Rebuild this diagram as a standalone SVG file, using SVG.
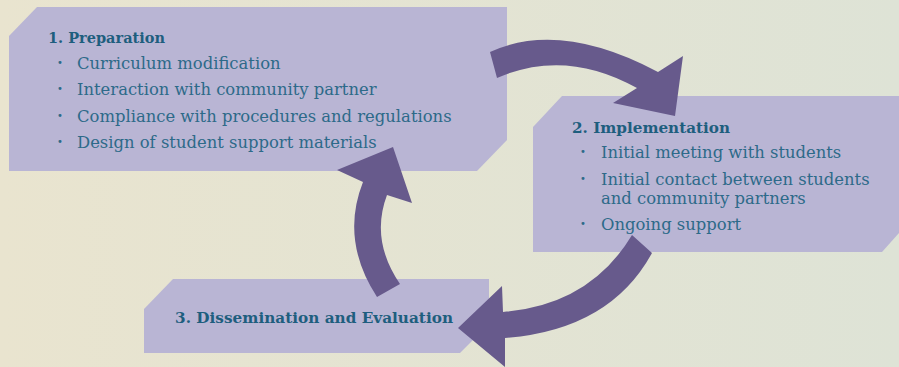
<svg xmlns="http://www.w3.org/2000/svg" width="899" height="367" viewBox="0 0 899 367">
<defs>
<linearGradient id="bg" x1="0" y1="0" x2="1" y2="0">
<stop offset="0" stop-color="#e9e4cf"/>
<stop offset="1" stop-color="#dee3d6"/>
</linearGradient>
<style>
.box{fill:#b9b5d4;}
.arrow{fill:#675a8c;}
.title{font-family:"DejaVu Serif","Liberation Serif",serif;font-weight:bold;font-size:15.5px;fill:#1e5e7e;}
.item{font-family:"DejaVu Serif","Liberation Serif",serif;font-size:16.4px;fill:#2d6a89;}
.bullet{font-family:"DejaVu Sans",sans-serif;font-size:10px;fill:#2d6a89;}
</style>
</defs>
<rect width="899" height="367" fill="url(#bg)"/>
<g id="node-preparation">
<polygon class="box" points="37,7 507,7 507,140 477,171 9,171 9,36"/>
<text class="title" x="48" y="43" textLength="117" lengthAdjust="spacingAndGlyphs">1. Preparation</text>
<text class="bullet" x="57" y="66">•</text>
<text class="item" x="77" y="69">Curriculum modification</text>
<text class="bullet" x="57" y="92">•</text>
<text class="item" x="77" y="95">Interaction with community partner</text>
<text class="bullet" x="57" y="119">•</text>
<text class="item" x="77" y="122">Compliance with procedures and regulations</text>
<text class="bullet" x="57" y="145">•</text>
<text class="item" x="77" y="148">Design of student support materials</text>
</g>
<g id="node-implementation">
<polygon class="box" points="562,96 899,96 899,233 882,252 533,252 533,127"/>
<text class="title" x="572" y="133" textLength="158" lengthAdjust="spacingAndGlyphs">2. Implementation</text>
<text class="bullet" x="580" y="155">•</text>
<text class="item" x="601" y="158">Initial meeting with students</text>
<text class="bullet" x="580" y="182">•</text>
<text class="item" x="601" y="185">Initial contact between students</text>
<text class="item" x="601" y="204">and community partners</text>
<text class="bullet" x="580" y="227">•</text>
<text class="item" x="601" y="230">Ongoing support</text>
</g>
<g id="node-dissemination">
<polygon class="box" points="173,279 489,279 489,324 460,353 144,353 144,309"/>
<text class="title" x="175" y="323" textLength="278" lengthAdjust="spacingAndGlyphs">3. Dissemination and Evaluation</text>
</g>
<g id="connectors">
<path class="arrow" d="M490,52 Q560,20 658,72 L683,56 L675,116 L613,103 L637,88 Q565,48 497,78 Z"/>
<path class="arrow" d="M632,235 Q590,305 503,312 L502,286 L458,328 L505,367 L505,338 Q610,330 652,253 Z"/>
<path class="arrow" d="M377,297 Q340,240 363,182 L337,170 L393,147 L412,203 L387,195 Q370,240 400,284 Z"/>
</g>
</svg>
